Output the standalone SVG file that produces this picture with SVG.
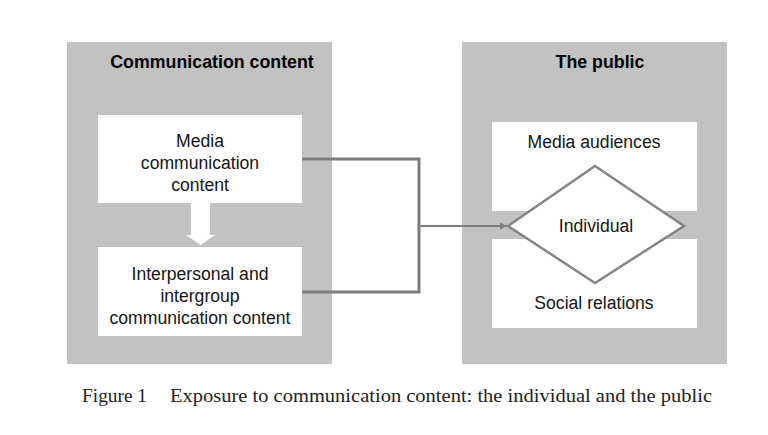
<svg xmlns="http://www.w3.org/2000/svg" width="768" height="435" viewBox="0 0 768 435">
<defs>
<style>
.panel{fill:#c2c2c2}
.box{fill:#ffffff}
.t{font-family:"Liberation Sans",Arial,sans-serif;font-size:17.6px;fill:#151515;text-anchor:middle}
.h{font-weight:bold;font-size:17.8px;fill:#000}
.conn{stroke:#7d7d7d;fill:none}
.cap{font-family:"Liberation Serif","Times New Roman",serif;font-size:19.5px;fill:#222}
</style>
<marker id="ah" viewBox="0 0 10 10" refX="10" refY="5" markerWidth="7" markerHeight="7" markerUnits="userSpaceOnUse" orient="auto">
<path d="M0,0 L10,5 L0,10 z" fill="#7d7d7d"/>
</marker>
</defs>
<rect width="768" height="435" fill="#ffffff"/>
<g id="panel-communication">
<rect class="panel" x="67" y="42" width="265" height="322"/>
<text class="t h" x="212" y="68">Communication content</text>
</g>
<g id="panel-public">
<rect class="panel" x="462" y="42" width="265" height="322"/>
<text class="t h" x="600" y="68">The public</text>
</g>
<g id="media-content">
<rect class="box" x="98" y="115" width="204" height="88"/>
<text class="t" x="200" y="147">Media</text>
<text class="t" x="200" y="169">communication</text>
<text class="t" x="200" y="191">content</text>
</g>
<g id="interpersonal-content">
<rect class="box" x="98" y="247" width="204" height="89"/>
<text class="t" x="200" y="280">Interpersonal and</text>
<text class="t" x="200" y="302">intergroup</text>
<text class="t" x="200" y="324">communication content</text>
</g>
<g id="media-audiences">
<rect class="box" x="492" y="122" width="205" height="89"/>
<text class="t" x="594" y="148">Media audiences</text>
</g>
<g id="social-relations">
<rect class="box" x="492" y="239" width="205" height="89"/>
<text class="t" x="594" y="309">Social relations</text>
</g>
<g id="individual">
<polygon points="508,226 595,166 684,226 595,283" fill="#ffffff" stroke="#858585" stroke-width="2.5"/>
<text class="t" x="596" y="232">Individual</text>
</g>
<g id="connectors">
<polygon points="191,203 210,203 210,235 215,235 200.5,245 186,235 191,235" fill="#ffffff"/>
<polyline class="conn" stroke-width="3" points="302,159 419,159 419,292 302,292"/>
<line class="conn" stroke-width="2" x1="419" y1="226" x2="507" y2="226" marker-end="url(#ah)"/>
</g>
<g id="caption">
<text class="cap" x="82" y="402" textLength="65" lengthAdjust="spacingAndGlyphs">Figure 1</text>
<text class="cap" x="170" y="402" textLength="542" lengthAdjust="spacingAndGlyphs">Exposure to communication content: the individual and the public</text>
</g>
</svg>
